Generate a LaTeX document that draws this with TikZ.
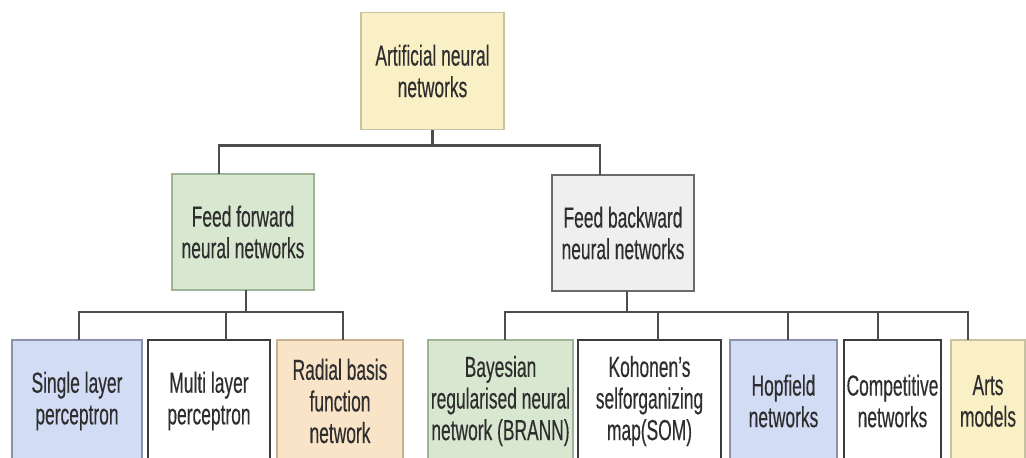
\documentclass[tikz,border=0pt]{standalone}
\usepackage{fontspec}
\setmainfont{Liberation Sans}[FakeStretch=0.6, FakeBold=0.3]
\usepackage{tikz}
\usetikzlibrary{positioning}
\definecolor{ink}{HTML}{2E2E2E}
\definecolor{linec}{HTML}{4D4D4D}
\definecolor{boxline}{HTML}{3C3C3C}
\definecolor{yellowc}{HTML}{FAF0C6}
\definecolor{yellowl}{HTML}{C9C2A2}
\definecolor{greenc}{HTML}{D7E7D0}
\definecolor{greenl}{HTML}{9FB497}
\definecolor{greyc}{HTML}{EFEFEF}
\definecolor{greyl}{HTML}{6A6A6A}
\definecolor{bluec}{HTML}{D2DCF5}
\definecolor{bluel}{HTML}{8C93A8}
\definecolor{orangec}{HTML}{F9E4C8}
\definecolor{orangel}{HTML}{C6B290}
\tikzset{
  blk/.style={draw=boxline, fill=white, line width=0.8pt, align=center, inner sep=0pt,
              outer sep=0pt, text=ink, font=\fontsize{14.5}{15.8}\selectfont},
  topb/.style={blk, fill=yellowc, draw=yellowl, minimum width=71.5pt, minimum height=58.5pt},
  midb/.style={blk, minimum width=71pt, minimum height=58pt},
  leafb/.style={blk, minimum height=61pt},
  link/.style={draw=linec, line width=1.1pt},
}
\begin{document}
\begin{tikzpicture}[x=0.5pt, y=0.5pt]
  \useasboundingbox (0,0) rectangle (1026,-457);
  % root and the two families
  \node[topb] (ann) at (432.5,-71) {Artificial neural\\networks};
  \node[midb, fill=greenc, draw=greenl] (ffnn) at (243,-232) {Feed forward\\neural networks};
  \node[midb, fill=greyc, draw=greyl] (fbnn) at (623,-233) {Feed backward\\neural networks};
  % leaves
  \node[leafb, fill=bluec, draw=bluel, minimum width=65pt] (slp) at (77,-401) {Single layer\\perceptron};
  \node[leafb, minimum width=61pt, right=3pt of slp] (mlp) {Multi layer\\perceptron};
  \node[leafb, fill=orangec, draw=orangel, minimum width=63pt, right=3.5pt of mlp] (rbf) {Radial basis\\function\\network};
  \node[leafb, fill=greenc, draw=greenl, minimum width=72.5pt, right=12.5pt of rbf] (bra) {Bayesian\\regularised neural\\network (BRANN)};
  \node[leafb, minimum width=71.5pt, right=2.5pt of bra] (som) {Kohonen's\\selforganizing\\map(SOM)};
  \node[leafb, fill=bluec, draw=bluel, minimum width=53.5pt, right=4.5pt of som] (hop) {Hopfield\\networks};
  \node[leafb, minimum width=48.5pt, right=3.5pt of hop] (comp) {Competitive\\networks};
  \node[leafb, fill=yellowc, draw=yellowl, minimum width=37pt, right=5pt of comp] (arts) {Arts\\models};
  % tree lines
  \draw[link] (ann.south) -- ++(0,-16) coordinate (topbus);
  \draw[link] ([xshift=-12pt]ffnn.north) |- (topbus) -| ([xshift=-11.5pt]fbnn.north);
  \draw[link] ([xshift=1.5pt]ffnn.south) -- ++(0,-22) coordinate (ffbus);
  \draw[link] ([xshift=1pt]slp.north) |- (ffbus) -| ([xshift=1.5pt]rbf.north);
  \draw[link] ([xshift=8.5pt]mlp.north) -- ++(0,28);
  \draw[link] ([xshift=2pt]fbnn.south) -- ++(0,-21) coordinate (fbbus);
  \draw[link] ([xshift=2.25pt]bra.north) |- (fbbus) -| ([xshift=-10pt]arts.north);
  \foreach \n/\dx in {som/4.25pt, hop/2.25pt, comp/-7.25pt}
    \draw[link] ([xshift=\dx]\n.north) -- ++(0,28);
\end{tikzpicture}
\end{document}
